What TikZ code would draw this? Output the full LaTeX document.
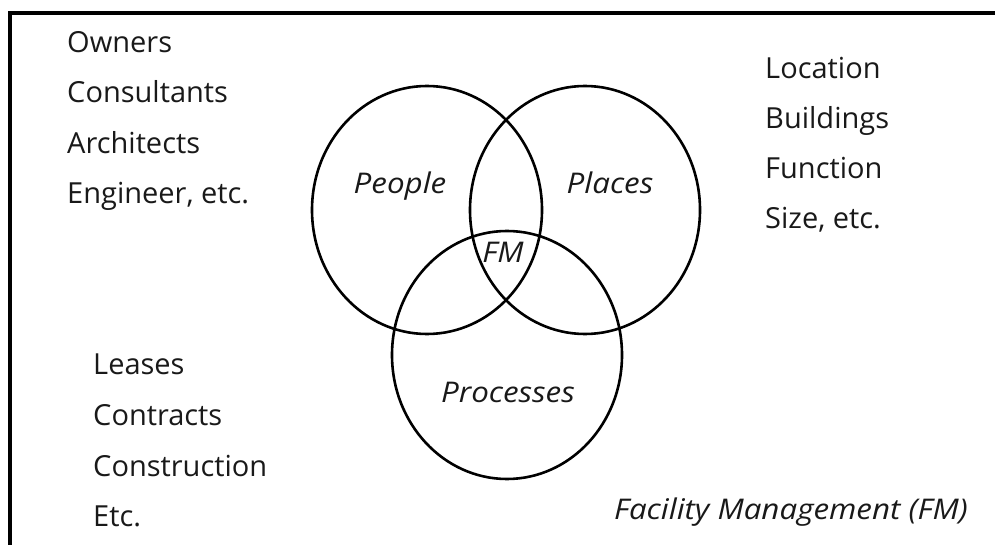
\documentclass[tikz,border=0pt]{standalone}
\usepackage{fontspec}
\setmainfont{Open Sans}
\newfontfamily\tagfont[FakeStretch=1.1]{Open Sans}
\usetikzlibrary{positioning,shapes.geometric}

\begin{document}
\begin{tikzpicture}[
    x=1pt,y=-1pt,
    set/.style={draw=black,line width=2.6pt,ellipse,
                minimum width=230pt,minimum height=248pt,inner sep=0pt},
    item/.style={anchor=base west,inner sep=0pt,text=black!90,
                 font=\fontsize{29}{34}\selectfont},
    tag/.style={anchor=base,inner sep=0pt,text=black!90,
                font=\fontsize{28.5}{34}\tagfont\itshape}
  ]
    \useasboundingbox (0,0) rectangle (995,545);
    % frame, open at the right and at the bottom
    \coordinate (fbl) at (10,545);
    \coordinate (ftl) at (10,13);
    \coordinate (ftr) at (995,13);
    \draw[line width=3.4pt] (fbl) -- (ftl) -- (ftr);

    % the three sets
    \node[set] (people) at (427,210) {};
    \node[set] (places) at (585,210) {};
    \node[set] (proc) at (507,355) {};
    \node[tag] (peoplet) at (400,194) {People};
    \node[tag] (placest) at (610,194) {Places};
    \node[tag] (fm) at (503,262) {FM};
    \node[tag] (proct) at (508,402) {Processes};

    % who
    \node[item] (owners) at (67,53) {Owners};
    \node[item] (consult) at ([yshift=-50pt]owners.base west) {Consultants};
    \node[item] (arch) at ([yshift=-51pt]consult.base west) {Architects};
    \node[item] (eng) at ([yshift=-50pt]arch.base west) {Engineer, etc.};

    % where
    \node[item] (loc) at (765,79) {Location};
    \node[item] (bldg) at ([yshift=-50pt]loc.base west) {Buildings};
    \node[item] (func) at ([yshift=-50pt]bldg.base west) {Function};
    \node[item] (size) at ([yshift=-50pt]func.base west) {Size, etc.};

    % how
    \node[item] (leases) at (93,374) {Leases};
    \node[item] (contr) at ([yshift=-51pt]leases.base west) {Contracts};
    \node[item] (constr) at ([yshift=-51pt]contr.base west) {Construction};
    \node[item] (etc) at ([yshift=-50pt]constr.base west) {Etc.};

    \node[tag,anchor=base east] (title) at (968,519) {Facility Management (FM)};
  \end{tikzpicture}
\end{document}
